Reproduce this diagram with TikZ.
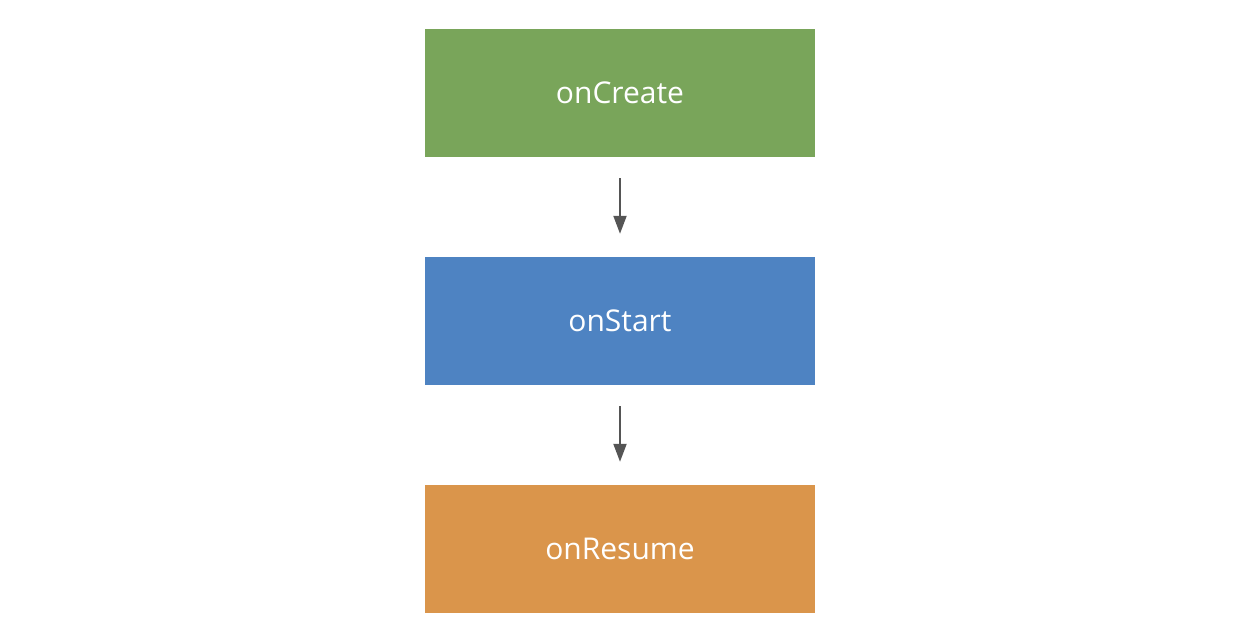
\documentclass[tikz,border=0pt]{standalone}
\usepackage{fontspec}
\setmainfont{Open Sans}
\usetikzlibrary{arrows.meta}
\definecolor{creategreen}{HTML}{79A55A}
\definecolor{startblue}{HTML}{4E83C2}
\definecolor{resumeorange}{HTML}{DA954B}
\definecolor{arrowgray}{HTML}{555555}
\begin{document}
\begin{tikzpicture}[x = 1pt, y = -1pt,
	stage/.style = {minimum width = 390pt, minimum height = 128pt, inner sep = 0pt, text = white, font = \fontsize{30}{36}\selectfont},
	flow/.style = {arrowgray, line width = 2pt, -{Triangle[length = 18pt, width = 13pt]}, shorten < = 21pt, shorten > = 23pt}]
	\useasboundingbox (0, 0) rectangle (1236, 636);
	\node[stage, fill = creategreen] (create) at (620, 93) {onCreate};
	\node[stage, fill = startblue] (start) at (620, 321) {onStart};
	\node[stage, fill = resumeorange] (resume) at (620, 549) {onResume};
	\draw[flow] (create) -- (start);
	\draw[flow] (start) -- (resume);
\end{tikzpicture}
\end{document}
